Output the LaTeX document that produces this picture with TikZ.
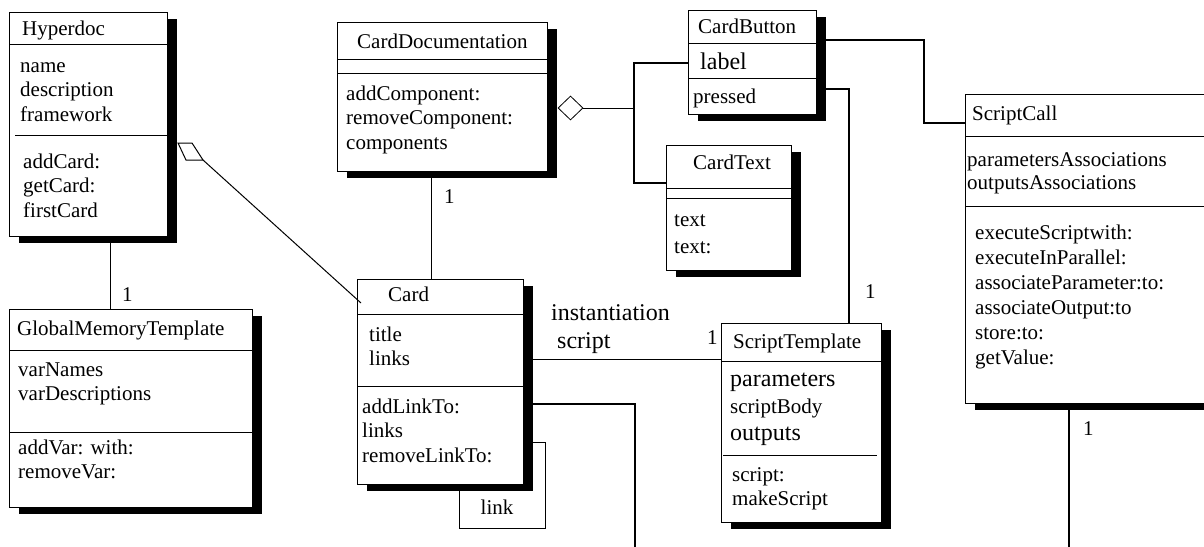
\documentclass[tikz,border=0pt]{standalone}
\usepackage{fontspec}
\setmainfont{Liberation Serif}
\frenchspacing
\usetikzlibrary{positioning, shadows, shapes.geometric, calc}

\begin{document}
\begin{tikzpicture}[x=1pt, y=-1pt,
    cls/.style={draw, fill=white, line width=0.8pt, inner sep=0pt, outer sep=0pt, anchor=north west,
      drop shadow={shadow xshift=10pt, shadow yshift=-7pt, fill=black, opacity=1}},
    txt/.style={anchor=base west, inner sep=0pt, text width=240pt, align=left,
      font=\fontsize{21}{24.6}\selectfont},
    big/.style={font=\fontsize{24}{27}\selectfont},
    mult/.style={anchor=base west, inner sep=0pt, font=\fontsize{21}{24}\selectfont},
    agg/.style={diamond, draw, fill=white, line width=0.8pt, inner sep=0pt, minimum width=25pt, minimum height=24pt},
    assoc/.style={line width=1pt},
    medium/.style={line width=1.8pt},
    heavy/.style={line width=2.5pt}]
    \useasboundingbox (0,0) rectangle (1204,546);
    \clip (0,0) rectangle (1204,546);

    % classes
    \node[cls, minimum width=158pt, minimum height=224pt] (hyperdoc) at (9,12) {};
    \node[cls, minimum width=243pt, minimum height=198pt] (gmt) at (9,309) {};
    \node[cls, minimum width=210pt, minimum height=149pt] (carddoc) at (337,22) {};
    \node[cls, minimum width=166pt, minimum height=205pt] (card) at (357,279) {};
    \node[cls, minimum width=128pt, minimum height=104pt] (cardbutton) at (688,10) {};
    \node[cls, minimum width=125pt, minimum height=125pt] (cardtext) at (666,145) {};
    \node[cls, minimum width=160pt, minimum height=199pt] (scripttemplate) at (721,323) {};
    \node[cls, minimum width=247pt, minimum height=309pt] (scriptcall) at (965,94) {};

    % compartments
    \draw[line width=0.8pt] (hyperdoc.west |- 0,44) -- (hyperdoc.east |- 0,44);
    \draw[line width=0.8pt] (15,135) -- (hyperdoc.east |- 0,135);
    \draw[line width=0.8pt] (gmt.west |- 0,350) -- (gmt.east |- 0,350);
    \draw[line width=0.8pt] (gmt.west |- 0,432) -- (gmt.east |- 0,432);
    \draw[line width=0.8pt] (carddoc.west |- 0,59) -- (carddoc.east |- 0,59);
    \draw[line width=0.8pt] (carddoc.west |- 0,73) -- (carddoc.east |- 0,73);
    \draw[line width=0.8pt] (card.west |- 0,314) -- (card.east |- 0,314);
    \draw[line width=0.8pt] (card.west |- 0,386) -- (card.east |- 0,386);
    \draw[line width=0.8pt] (cardbutton.west |- 0,43) -- (cardbutton.east |- 0,43);
    \draw[line width=0.8pt] (cardbutton.west |- 0,78) -- (cardbutton.east |- 0,78);
    \draw[line width=0.8pt] (cardtext.west |- 0,188) -- (cardtext.east |- 0,188);
    \draw[line width=0.8pt] (cardtext.west |- 0,198) -- (cardtext.east |- 0,198);
    \draw[line width=0.8pt] (scripttemplate.west |- 0,361) -- (scripttemplate.east |- 0,361);
    \draw[line width=0.8pt] (723,455) -- (877,455);
    \draw[line width=0.8pt] (scriptcall.west |- 0,136) -- (scriptcall.east |- 0,136);
    \draw[line width=0.8pt] (scriptcall.west |- 0,206) -- (scriptcall.east |- 0,206);

    % texts
    \node[txt] (hdname) at (22,35) {Hyperdoc};
    \node[txt] (hdattr) at (20,72) {name\\description\\framework};
    \node[txt] (hdmeth) at (23,168) {addCard:\\getCard:\\firstCard};
    \node[txt] (gmtname) at (17,335) {GlobalMemoryTemplate};
    \node[txt] (gmtattr) at (18,376) {varNames\\varDescriptions};
    \node[txt] (gmtmeth) at (18,454) {addVar: with:\\removeVar:};
    \node[txt] (cdname) at (357,48) {CardDocumentation};
    \node[txt] (cdmeth) at (346,100) {addComponent:\\removeComponent:\\components};
    \node[txt] (cardname) at (388,301) {Card};
    \node[txt] (cardattr) at (369,341) {title\\links};
    \node[txt] (cardmeth) at (362,413) {addLinkTo:\\links\\removeLinkTo:};
    \node[txt] (cbname) at (698,33) {CardButton};
    \node[txt, big] (cbattr) at (700,69) {label};
    \node[txt] (cbmeth) at (693,103) {pressed};
    \node[txt] (ctname) at (693,169) {CardText};
    \node[txt, font=\fontsize{21}{27}\selectfont] (ctmeth) at (674,226) {text\\text:};
    \node[txt] (stname) at (733,348) {ScriptTemplate};
    \node[txt, font=\fontsize{21}{27}\selectfont] (stattr) at (730,386)
      {{\fontsize{24}{27}\selectfont parameters}\\scriptBody\\{\fontsize{24}{27}\selectfont outputs}};
    \node[txt] (stmeth) at (732,481) {script:\\makeScript};
    \node[txt] (scname) at (972,120) {ScriptCall};
    \node[txt, font=\fontsize{21}{23}\selectfont] (scattr) at (967,166) {parametersAssociations\\outputsAssociations};
    \node[txt, font=\fontsize{21}{25}\selectfont] (scmeth) at (975,239)
      {executeScriptwith:\\executeInParallel:\\associateParameter:to:\\associateOutput:to\\store:to:\\getValue:};

    % Hyperdoc - GlobalMemoryTemplate
    \draw[assoc] (110,0 |- hyperdoc.south) -- (110,0 |- gmt.north);
    \node[mult] (m1) at (122,301) {1};

    % Hyperdoc <>- Card
    \coordinate (hdtip) at (203,160);
    \draw[assoc, fill=white] (hdtip) -- ++(-17,0) -- ++(-8,-17) -- ++(14,0) -- cycle;
    \draw[assoc] (hdtip) -- ($(card.north west)+(4,24)$);

    % CardDocumentation - Card
    \draw[assoc] (431,0 |- carddoc.south) -- (431,0 |- card.north);
    \node[mult] (m2) at (444,203) {1};

    % CardDocumentation <>- components
    \node[agg] (cdagg) at (570.5,108) {};
    \coordinate (cdjoin) at (634,108);
    \draw[assoc] (cdagg.east) -- (cdjoin);
    \draw[heavy] (cardbutton.west |- 0,63) -| (cdjoin) |- (cardtext.west |- 0,183);

    % CardButton - ScriptCall
    \draw[heavy] (cardbutton.east |- 0,40) -| (924,123) -- (scriptcall.west |- 0,123);

    % CardButton - ScriptTemplate
    \draw[medium] (cardbutton.east |- 0,89) -| (849,0 |- scripttemplate.north);
    \node[mult] (m3) at (865,298) {1};

    % Card - ScriptTemplate
    \draw[assoc] (card.east |- 0,359) -- (scripttemplate.west |- 0,359);
    \node[txt, big] (inst) at (551,320) {instantiation};
    \node[txt, big] (instscript) at (557,348) {script};
    \node[mult] (m4) at (707,344) {1};

    % Card link loop
    \draw[assoc] (459,0 |- card.south) |- (545,528) |- (card.east |- 0,442);
    \node[anchor=base, inner sep=0pt, font=\fontsize{21}{24}\selectfont] (link) at (497,514) {link};

    % going off the page
    \coordinate (cardout) at (635,550);
    \draw[heavy] (card.east |- 0,404) -| (cardout);
    \coordinate (callout) at (1069,550);
    \draw[heavy] (1069,0 |- scriptcall.south) -- (callout);
    \node[mult] (m5) at (1083,435) {1};
\end{tikzpicture}
\end{document}
